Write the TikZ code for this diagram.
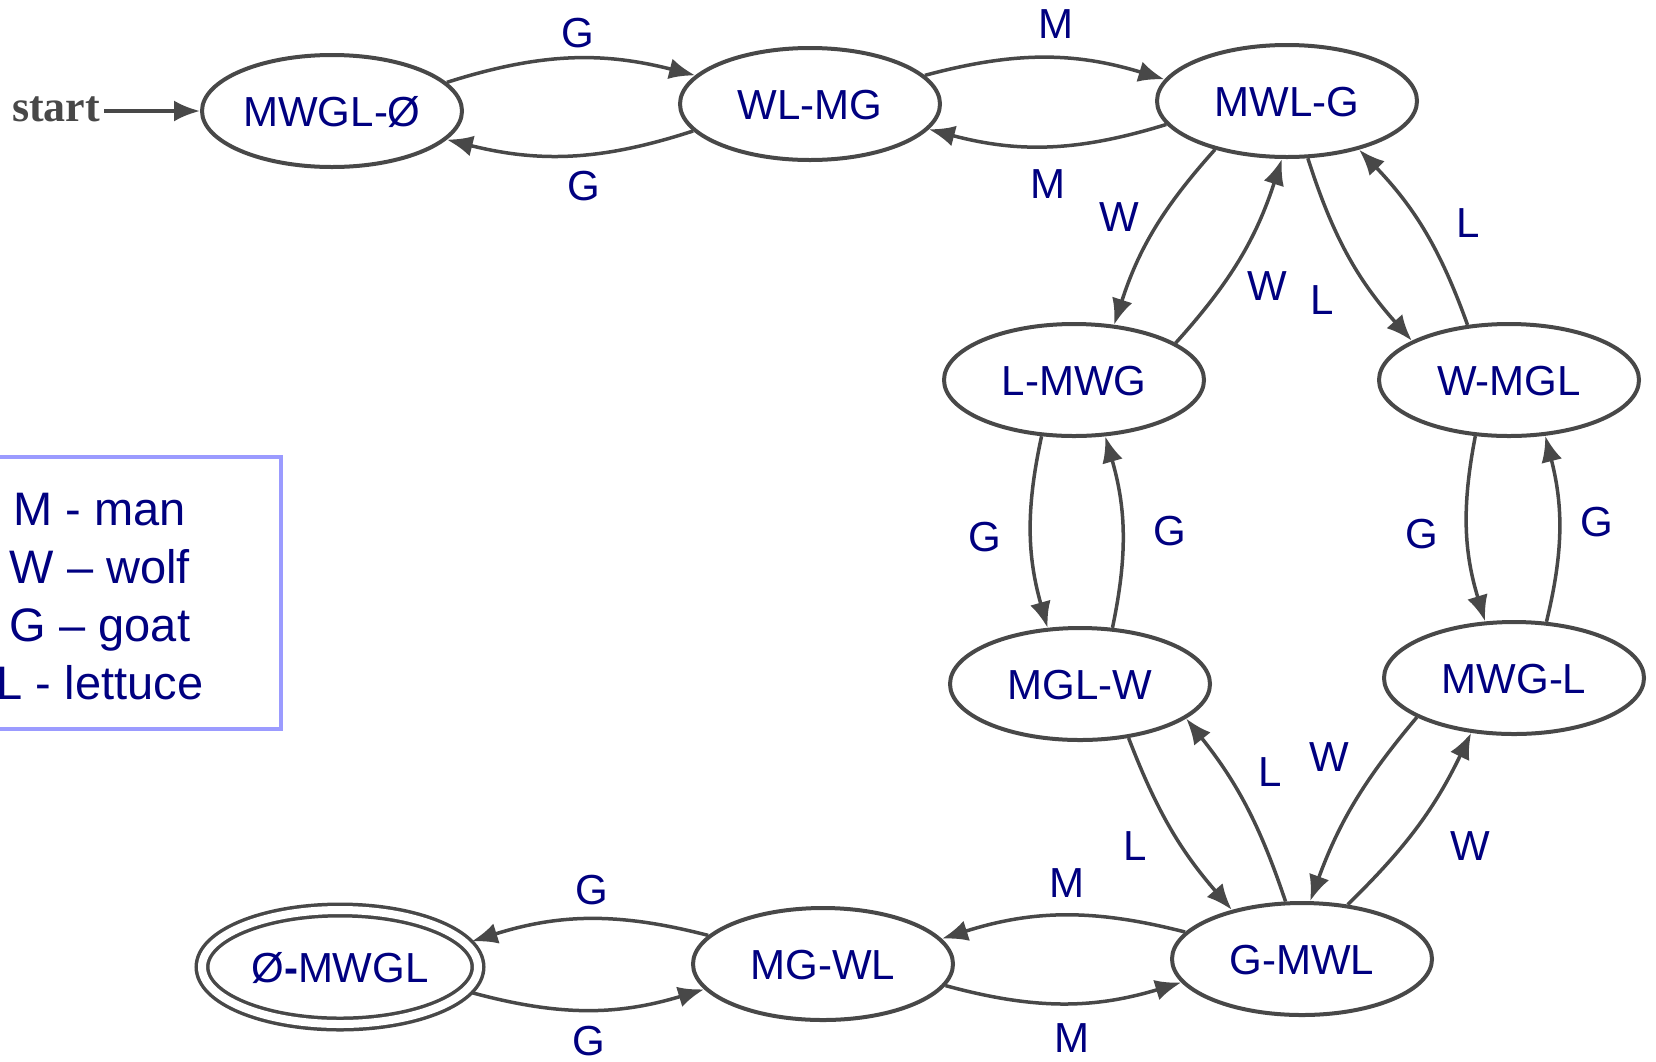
\documentclass[tikz,border=0pt]{standalone}
\usepackage{fontspec}
\setmainfont{Liberation Sans}
\newfontfamily\startfont{Liberation Serif}
\usetikzlibrary{arrows.meta,shapes.geometric}

\definecolor{statetext}{RGB}{0,0,128}
\definecolor{edgegray}{RGB}{72,72,72}
\definecolor{legendline}{RGB}{155,155,255}

\tikzset{
  state/.style={ellipse, draw=edgegray, line width=4pt, fill=white,
    minimum width=260pt, minimum height=112pt, inner sep=0pt,
    text=statetext, font=\fontsize{42}{50}\selectfont,
    text height=30pt, text depth=0pt},
  finalstate/.style={state, line width=3.5pt, double=white,
    double distance=8pt, minimum width=276pt, minimum height=114pt,
    outer sep=6pt},
  move/.style={draw=edgegray, line width=3.5pt,
    -{Latex[length=26pt,width=21pt]}},
  movelabel/.style={text=statetext, font=\fontsize{42}{50}\selectfont,
    fill=white, inner sep=1pt, text height=30pt, text depth=0pt},
  legendtext/.style={text=statetext, font=\fontsize{47}{56}\selectfont,
    anchor=base, inner sep=0pt},
  legendbox/.style={draw=legendline, line width=4pt},
}

\begin{document}
\begin{tikzpicture}[x=1pt,y=1pt]
  \path[use as bounding box] (0,0) rectangle (1656,-1061);

  % states
  \node[state] (n1) at (332,-111) {MWGL-Ø};
  \node[state] (n2) at (810,-104) {WL-MG};
  \node[state] (n3) at (1287,-101) {MWL-G};
  \node[state] (n4) at (1074,-380) {L-MWG};
  \node[state] (n5) at (1509,-380) {W-MGL};
  \node[state] (n6) at (1080,-684) {MGL-W};
  \node[state] (n7) at (1514,-678) {MWG-L};
  \node[state] (n8) at (1302,-959) {G-MWL};
  \node[state] (n9) at (823,-964) {MG-WL};
  \node[finalstate] (n10) at (340,-967) {Ø\textbf{-}MWGL};

  % start marker
  \node[text=edgegray, font=\startfont\bfseries\fontsize{44}{50}\selectfont,
        anchor=base, inner sep=4pt] (start) at (56,-121) {start};
  \draw[move] (start.east |- n1.west) -- (n1.west);

  % top row
  \draw[move] (n1.14) to[bend left=16] (n2.166);
  \draw[move] (n2.193) to[bend left=16] (n1.346);
  \draw[move] (n2.14) to[bend left=16] (n3.170);
  \draw[move] (n3.191) to[bend left=16] (n2.348);

  % down the two branches
  \draw[move] (n3.214) to[bend right=12] (n4.54);
  \draw[move] (n4.20) to[bend right=12] (n3.265);
  \draw[move] (n3.290) to[bend right=12] (n5.158);
  \draw[move] (n5.127) to[bend right=12] (n3.326);
  \draw[move] (n4.240) to[bend right=14] (n6.120);
  \draw[move] (n6.60) to[bend right=14] (n4.299);
  \draw[move] (n5.239) to[bend right=14] (n7.117);
  \draw[move] (n7.60) to[bend right=14] (n5.303);
  \draw[move] (n6.312) to[bend right=10] (n8.145);
  \draw[move] (n8.106) to[bend right=10] (n6.342);
  \draw[move] (n7.202) to[bend right=10] (n8.82);
  \draw[move] (n8.50) to[bend right=10] (n7.232);

  % bottom row
  \draw[move] (n8.167) to[bend right=16] (n9.12);
  \draw[move] (n9.350) to[bend right=16] (n8.191);
  \draw[move] (n9.166) to[bend right=16] (n10.11);
  \draw[move] (n10.349) to[bend right=16] (n9.192);

  % move labels
  \node[movelabel] (lg1) at (578,-32) {G};
  \node[movelabel] (lg2) at (584,-185) {G};
  \node[movelabel] (lm1) at (1056,-23) {M};
  \node[movelabel] (lm2) at (1048,-183) {M};
  \node[movelabel] (lw1) at (1119,-216) {W};
  \node[movelabel] (lw2) at (1267,-285) {W};
  \node[movelabel] (ll1) at (1322,-299) {L};
  \node[movelabel] (ll2) at (1468,-222) {L};
  \node[movelabel] (lg3) at (985,-536) {G};
  \node[movelabel] (lg4) at (1170,-530) {G};
  \node[movelabel] (lg5) at (1422,-533) {G};
  \node[movelabel] (lg6) at (1597,-521) {G};
  \node[movelabel] (ll3) at (1270,-771) {L};
  \node[movelabel] (ll4) at (1135,-845) {L};
  \node[movelabel] (lw3) at (1329,-756) {W};
  \node[movelabel] (lw4) at (1470,-845) {W};
  \node[movelabel] (lm3) at (1067,-882) {M};
  \node[movelabel] (lm4) at (1072,-1037) {M};
  \node[movelabel] (lg7) at (592,-889) {G};
  \node[movelabel] (lg8) at (589,-1040) {G};

  % legend
  \draw[legendbox] (-10,-457) rectangle (281,-729);
  \node[legendtext] (leg1) at (100,-525) {M - man};
  \node[legendtext] (leg2) at (100,-583) {W – wolf};
  \node[legendtext] (leg3) at (100,-641) {G – goat};
  \node[legendtext] (leg4) at (100,-699) {L - lettuce};
\end{tikzpicture}
\end{document}
